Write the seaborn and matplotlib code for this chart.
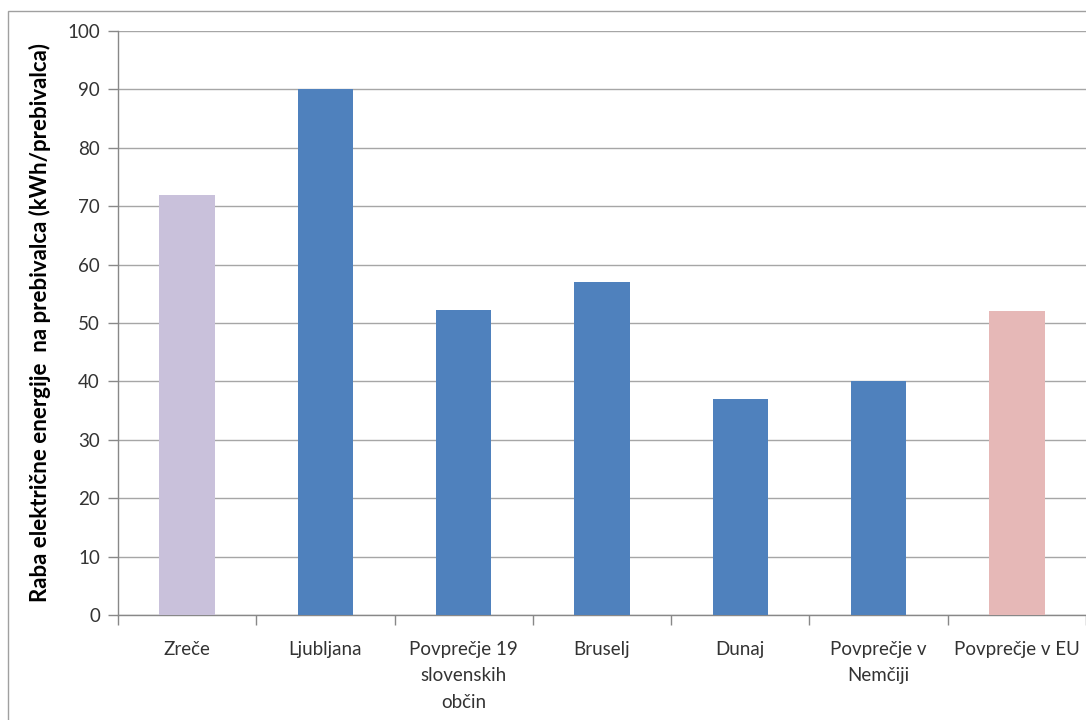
import matplotlib
matplotlib.use("Agg")
import matplotlib.pyplot as plt
import seaborn as sns
import pandas as pd
from matplotlib.patches import Rectangle

categories = ["Zreče", "Ljubljana", "Povprečje 19\nslovenskih\nobčin", "Bruselj",
              "Dunaj", "Povprečje v\nNemčiji", "Povprečje v EU"]
values = [72, 90, 52.3, 57, 37, 40, 52]
bar_colors = ["#C9C1DB", "#4F81BD", "#4F81BD", "#4F81BD", "#4F81BD", "#4F81BD", "#E6B8B7"]
y_ticks = [0, 10, 20, 30, 40, 50, 60, 70, 80, 90, 100]
y_label = "Raba električne energije  na prebivalca (kWh/prebivalca)"

sns.set_theme(style="white")
plt.rcParams['font.family'] = ['Lato', 'DejaVu Sans']

df = pd.DataFrame({"cat": categories, "val": values})

fig = plt.figure(figsize=(10.86, 7.2), dpi=100)
ax = fig.add_axes([118/1086, 1 - 615/720, (1086 - 118)/1086, (615 - 31)/720])

sns.barplot(data=df, x="cat", y="val", hue="cat", palette=bar_colors, legend=False,
            width=0.4, saturation=1, ax=ax, zorder=3, linewidth=0)

ax.set_ylim(0, 100)
ax.set_xlim(-0.5, len(categories) - 0.5)
ax.set_yticks(y_ticks)
ax.set_yticklabels([str(t) for t in y_ticks], fontsize=13.5, color="#333333")
ax.yaxis.grid(True, color="#A6A6A6", linewidth=1.0, zorder=0)
ax.set_axisbelow(True)

ax.set_xticks(range(len(categories)))
ax.set_xticklabels(categories, fontsize=13.5, color="#333333", linespacing=1.65)
ax.tick_params(axis="x", length=0, pad=19)
ax.tick_params(axis="y", length=7, color="#888888", width=1, direction="out", left=True, pad=6)
# category boundary tick marks
ax.set_xticks([i - 0.5 for i in range(len(categories) + 1)], minor=True)
ax.tick_params(axis="x", which="minor", length=7, color="#888888", width=1, direction="out", bottom=True)

for s in ["top", "right"]:
    ax.spines[s].set_visible(False)
for s in ["left", "bottom"]:
    ax.spines[s].set_color("#888888")
    ax.spines[s].set_linewidth(1.0)

ax.set_xlabel("")
ax.set_ylabel(y_label, fontsize=16, fontweight="bold", color="#000000", labelpad=12)

# outer chart frame
fig.patches.append(Rectangle((8/1086, -0.1), 1.2, 1 - 11/720 + 0.1, transform=fig.transFigure,
                             fill=False, edgecolor="#A0A0A0", linewidth=1.0, zorder=0))

fig.savefig("out.png", dpi=100)
